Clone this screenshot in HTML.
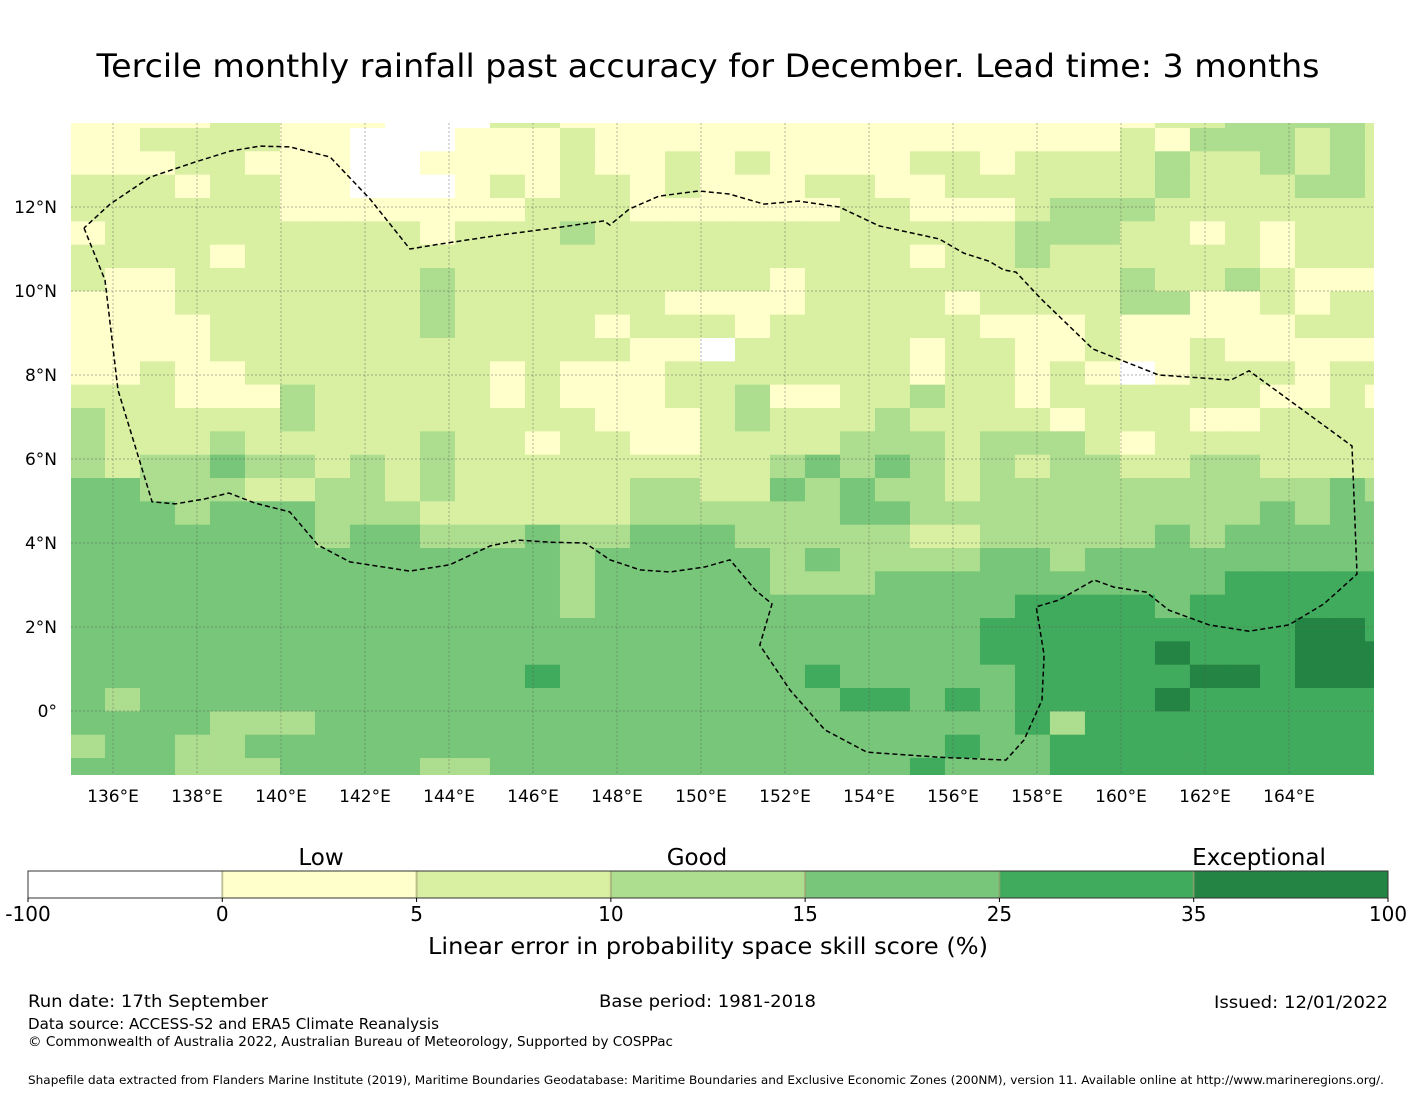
<!DOCTYPE html>
<html><head><meta charset="utf-8">
<style>
html,body{margin:0;padding:0;background:#fff;}
svg{display:block;font-family:"DejaVu Sans","Liberation Sans",sans-serif;}
</style></head>
<body>
<svg id="chart" width="1416" height="1095" viewBox="0 0 1416 1095" xmlns="http://www.w3.org/2000/svg">
<rect x="0" y="0" width="1416" height="1095" fill="#fff"/>
<text x="708" y="77" text-anchor="middle" font-size="32" textLength="1223" lengthAdjust="spacingAndGlyphs">Tercile monthly rainfall past accuracy for December. Lead time: 3 months</text>
<defs><clipPath id="mapclip"><rect x="71" y="123" width="1303" height="652"/></clipPath></defs>
<g id="cells" clip-path="url(#mapclip)"></g>
<g id="grid" clip-path="url(#mapclip)"></g>
<g id="eez" clip-path="url(#mapclip)"></g>
<g id="yticks"></g>
<g id="xticks"></g>
<g id="cbar"></g>
<text x="321" y="865" text-anchor="middle" font-size="23">Low</text>
<text x="697" y="865" text-anchor="middle" font-size="23">Good</text>
<text x="1259" y="865" text-anchor="middle" font-size="23">Exceptional</text>
<text x="708" y="954" text-anchor="middle" font-size="23" textLength="560" lengthAdjust="spacingAndGlyphs">Linear error in probability space skill score (%)</text>
<text x="28" y="1007" font-size="17" textLength="240" lengthAdjust="spacingAndGlyphs">Run date: 17th September</text>
<text x="599" y="1007" font-size="17" textLength="217" lengthAdjust="spacingAndGlyphs">Base period: 1981-2018</text>
<text x="1214" y="1008" font-size="17" textLength="174" lengthAdjust="spacingAndGlyphs">Issued: 12/01/2022</text>
<text x="28" y="1029" font-size="15" textLength="411" lengthAdjust="spacingAndGlyphs">Data source: ACCESS-S2 and ERA5 Climate Reanalysis</text>
<text x="28" y="1046" font-size="13" textLength="645" lengthAdjust="spacingAndGlyphs">© Commonwealth of Australia 2022, Australian Bureau of Meteorology, Supported by COSPPac</text>
<text x="28" y="1084" font-size="11.5" textLength="1356" lengthAdjust="spacingAndGlyphs">Shapefile data extracted from Flanders Marine Institute (2019), Maritime Boundaries Geodatabase: Maritime Boundaries and Exclusive Economic Zones (200NM), version 11. Available online at http://www.marineregions.org/.</text>
</svg>
<script>
// ---- data ----
const binEdges = ["-100","0","5","10","15","25","35","100"];
const binColors = ["#ffffff","#ffffcc","#d9f0a3","#addd8e","#78c679","#41ab5d","#238443"];
const lonTicks = [136,138,140,142,144,146,148,150,152,154,156,158,160,162,164];
const latTicks = [0,2,4,6,8,10,12];
// category index per cell (0..6), rows north->south, columns west->east
const gridRows = [
"1111 22 111 000 22 1111111111111111 1 22 3333 2",
"11 2222 11 000 1 1 1 2 111111111 111111 2 1 333 2 3 2",
"111 22 111 00 11 11 2 11 2 1 2 1111 22 1 2222 3 22 3 2 3 2",
"222 1 22 11 000 1 2 1 2 2 1 2 1 1 1 2 2 1 1 2 2 2 2 2 2 3 2 2 2 3 3 2",
"222222 1111111 2 2 2 111111 2 2 1 1 1 2 3 3 3 2 2 2 2 2 2 2",
"1 222222222 1 2 2 2 3 222222222 2 2 2 3 3 3 2 2 1 2 1 2 2 2",
"2222 1 22222222 22222222222 1 2 2 3 2 2 2 2 2 2 1 2 2 2",
"2 11 2222222 3 22 2222222 1 222 2 22222 3 2 2 3 2 1 1 1",
"111 2 222222 3 22 2222 1111 222 2 1 2222 3 3 1 1 2 1 2 2",
"1111 222222 3 22 2 2 1 222 1 2222 2 2 1 1 1 2 1 1 1 1 1 2 2 2",
"1111 222222222 2 2 2 1 1 0 22222 1 2 2 1 1 2 1 1 2 1 1 1 1 1",
"11 2 11 2 222222 1 2 111 2222222 1 2 2 1 2 1 0 1 2 2 2 1 2 2",
"222 111 3 22222 1 2 111 2 2 3 1 1 2 2 3 2 2 1 2 2 2 2 2 2 1 1 2 1",
"3 22222 3 222222 2 2 111 2 3 2 2 2 3 2 2 2 2 1 2 2 2 1 1 2 2 2 2",
"3 222 3 22222 3 22 1 2 2 1 1 2222 3 3 3 2 3 3 3 2 1 2 2 2 2 2 2 2",
"3 2 3 3 4 3 3 2 3 2 3 2 2 2222222 3 4 3 4 3 2 3 2 3 3 2 2 3 3 2 2 2 2",
"4 4 3 3 3 2 2 3 3 2 3 2 2 2 2 2 3 3 2 2 4 3 4 3 3 2 3333333333 4 3",
"4443444333222 222 333333 4 4 3 333333333 4 3 4 4",
"4444444 3 44 333 4 3 3 4 4 4 33333 2 2 3 3 3 3 3 4 3 4 4 4 4 4",
"4444444444444 4 3 44444 3 4 3 3 3 3 4 4 3 444444444",
"4444444444444 4 3 44444 333 4 444444444 55555",
"4444444444444 4 3 444444444 444 5555 4 555555",
"4444444444444 44444444444 44 555555555 66 5",
"4444444444444 44444444444 44 55555 6 555 666",
"4444444444444 5 4444444 5 4 4 444 55555 66 5 666",
"4 3 44444444444 444444444 55 4 5 4 5555 6 555555",
"4444 333 444444 44444444444 444 5 3 555555555",
"3 4 4 3 3 44444444 44444444444 4 5 4 4 5555555555",
"444 333 4444 33 4 44444444444 5 444 5555555555"
];
const boundaryLonLat = [
[135.31,11.50],[135.81,10.26],[136.12,7.64],[136.93,4.98],[137.48,4.93],[138.19,5.05],[138.76,5.19],[139.38,4.95],[140.21,4.74],[140.88,3.95],[141.64,3.55],[143.07,3.33],[144.02,3.48],[144.98,3.93],[145.64,4.07],[146.40,4.02],[147.24,4.00],[147.83,3.60],[148.55,3.36],[149.26,3.31],[150.10,3.43],[150.69,3.60],[151.29,2.88],[151.69,2.55],[151.40,1.57],[152.12,0.50],[152.95,-0.45],[153.95,-0.98],[155.67,-1.10],[157.26,-1.17],[157.69,-0.69],[158.12,0.26],[158.17,1.33],[157.98,2.48],[158.52,2.64],[159.36,3.12],[159.83,2.95],[160.60,2.83],[161.14,2.40],[162.10,2.05],[163.05,1.90],[164.00,2.05],[164.83,2.55],[165.62,3.26],[165.50,6.31],[163.05,8.10],[162.62,7.88],[160.90,8.00],[159.33,8.62],[158.10,9.81],[157.50,10.45],[157.21,10.50],[156.86,10.71],[156.26,10.90],[155.67,11.24],[154.24,11.55],[153.29,12.00],[152.33,12.14],[151.50,12.07],[150.67,12.31],[149.95,12.38],[149.00,12.26],[148.29,11.95],[147.83,11.57],[147.69,11.67],[146.64,11.52],[145.21,11.33],[143.79,11.12],[143.07,11.00],[142.12,12.19],[141.17,13.19],[140.21,13.43],[139.50,13.45],[138.79,13.33],[137.95,13.07],[136.88,12.71],[135.93,12.07],[135.31,11.50]
];
// ---- scales ----
const X0 = 71, Y0 = 711, PPD = 42;
function xScale(lon){ return X0 + (lon - 135) * PPD; }
function yScale(lat){ return Y0 - lat * PPD; }
const lonStart = 134.976, dLon = 0.8333, latStart = 14.437, dLat = 0.5556;
const NS = "http://www.w3.org/2000/svg";
function mk(tag, attrs, parent){ const e=document.createElementNS(NS,tag); for(const k in attrs) e.setAttribute(k,attrs[k]); parent.appendChild(e); return e; }

// cells
const cellsG = document.getElementById('cells');
gridRows.forEach((rowStr, r) => {
  const cats = rowStr.replace(/\s+/g,'').split('').map(Number);
  cats.forEach((cat, c) => {
    const x1 = xScale(lonStart + c*dLon), x2 = xScale(lonStart + (c+1)*dLon);
    const y1 = yScale(latStart - r*dLat), y2 = yScale(latStart - (r+1)*dLat);
    const rect = mk('rect', {x:x1, y:y1, width:(x2-x1+0.6), height:(y2-y1+0.6), fill:binColors[cat]}, cellsG);
    
    
  });
});

// gridlines
const gridG = document.getElementById('grid');
lonTicks.forEach(lon => {
  const l = mk('line', {x1:xScale(lon), x2:xScale(lon), y1:123, y2:775, stroke:'#555', 'stroke-width':0.7, 'stroke-dasharray':'2,2', opacity:0.6}, gridG);
  
  
});
latTicks.forEach(lat => {
  const l = mk('line', {x1:71, x2:1374, y1:yScale(lat), y2:yScale(lat), stroke:'#555', 'stroke-width':0.7, 'stroke-dasharray':'2,2', opacity:0.6}, gridG);
  
  
});

// EEZ boundary
const eezG = document.getElementById('eez');
const pts = boundaryLonLat.map(p => xScale(p[0]).toFixed(1)+','+yScale(p[1]).toFixed(1)).join(' ');
const poly = mk('polyline', {points:pts, fill:'none', stroke:'#000', 'stroke-width':1.5, 'stroke-dasharray':'5,3'}, eezG);



// tick labels
const yG = document.getElementById('yticks');
latTicks.forEach(lat => {
  const t = mk('text', {x:57, y:yScale(lat)+6, 'text-anchor':'end', 'font-size':17}, yG);
  t.textContent = lat === 0 ? '0°' : lat + '°N';
  
  
});
const xG = document.getElementById('xticks');
lonTicks.forEach(lon => {
  const t = mk('text', {x:xScale(lon), y:802, 'text-anchor':'middle', 'font-size':17}, xG);
  t.textContent = lon + '°E';
  
  
});

// colorbar
const cb = document.getElementById('cbar');
const cbX0 = 28, cbX1 = 1388, cbY = 871, cbH = 27;
const segW = (cbX1 - cbX0) / binColors.length;
binColors.forEach((col, i) => {
  const s = mk('rect', {x:cbX0 + i*segW, y:cbY, width:segW, height:cbH, fill:col}, cb);
  
  
  if (i > 0) {
    const d = mk('line', {x1:cbX0+i*segW, x2:cbX0+i*segW, y1:cbY, y2:cbY+cbH, stroke:'#9a9a6a', 'stroke-width':2, opacity:0.6}, cb);
    
    
  }
});
const frame = mk('rect', {x:cbX0, y:cbY, width:cbX1-cbX0, height:cbH, fill:'none', stroke:'#333', 'stroke-width':1}, cb);


binEdges.forEach((lab, i) => {
  const x = cbX0 + i*segW;
  const tk = mk('line', {x1:x, x2:x, y1:cbY+cbH, y2:cbY+cbH+4, stroke:'#000', 'stroke-width':1}, cb);
  
  
  const t = mk('text', {x:x, y:921, 'text-anchor':'middle', 'font-size':20}, cb);
  t.textContent = lab;
  
  
});
</script>
</body></html>
